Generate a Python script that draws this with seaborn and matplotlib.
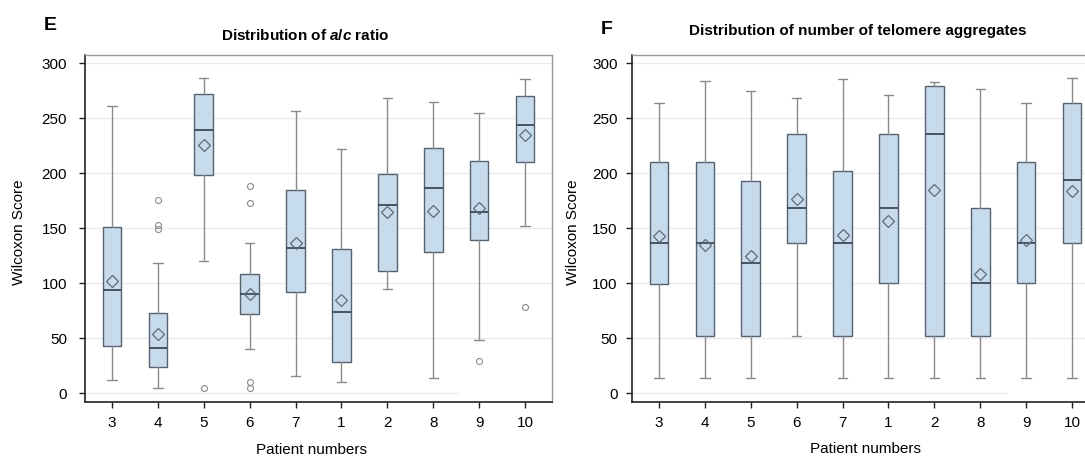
import numpy as np
import matplotlib
matplotlib.use("Agg")
import matplotlib.pyplot as plt
import seaborn as sns

# ---------------- data ----------------
patients = ["3", "4", "5", "6", "7", "1", "2", "8", "9", "10"]
y_ticks = [0, 50, 100, 150, 200, 250, 300]

# Panel E: a/c ratio
e_whislo = [12, 5, 120, 40, 16, 10, 95, 14, 48, 152]
e_q1     = [43, 24, 198, 72, 92, 28, 111, 128, 139, 210]
e_med    = [94, 41, 239, 90, 132, 74, 171, 187, 165, 244]
e_q3     = [151, 73, 272, 108, 185, 131, 199, 223, 211, 270]
e_whishi = [261, 118, 287, 137, 257, 222, 268, 265, 255, 286]
e_mean   = [102, 54, 226, 90, 137, 85, 165, 166, 168, 235]
e_fliers = [[], [176, 153, 149], [5], [188, 173, 10, 5], [], [], [], [], [29], [78]]

# Panel F: number of telomere aggregates
f_whislo = [14, 14, 14, 52, 14, 14, 14, 14, 14, 14]
f_q1     = [99, 52, 52, 137, 52, 100, 52, 52, 100, 137]
f_med    = [137, 137, 118, 168, 137, 168, 236, 100, 137, 194]
f_q3     = [210, 210, 193, 236, 202, 236, 279, 168, 210, 264]
f_whishi = [264, 284, 275, 268, 286, 271, 283, 277, 264, 287]
f_mean   = [143, 135, 125, 177, 144, 157, 185, 108, 139, 184]
f_fliers = [[] for _ in patients]

# ---------------- style ----------------
sns.set_style("white")
plt.rcParams["font.family"] = ["Liberation Sans", "DejaVu Sans"]
plt.rcParams["mathtext.fontset"] = "custom"
plt.rcParams["mathtext.rm"] = "Liberation Sans:bold"
plt.rcParams["mathtext.it"] = "Liberation Sans:italic:bold"
plt.rcParams["mathtext.bf"] = "Liberation Sans:bold"
plt.rcParams["text.color"] = "black"
plt.rcParams["xtick.color"] = "black"
plt.rcParams["ytick.color"] = "black"

W, H = 1085, 461
fig = plt.figure(figsize=(W / 100, H / 100), dpi=100)

BOX_FILL = "#c6dcec"
BOX_EDGE = "#56626e"
MED_COL = "#3e4954"
WHISK = "#8a8a8a"
MEAN_COL = "#5d6b78"
FS = 11


def panel(rect, whislo, q1, med, q3, whishi, mean, fliers, ypad):
    ax = fig.add_axes(rect)
    pos = np.arange(len(patients))
    stats = []
    for i in range(len(patients)):
        stats.append(dict(whislo=whislo[i], q1=q1[i], med=med[i], q3=q3[i],
                          whishi=whishi[i], mean=mean[i],
                          fliers=np.array(fliers[i], dtype=float)))
    for yv in y_ticks[1:]:
        ax.axhline(yv, color="#ececec", lw=1.0, zorder=0)
    ax.axhline(0, xmin=0, xmax=0.80, color="#ececec", lw=1.0, zorder=0)
    ax.bxp(stats, positions=pos, widths=0.41, capwidths=0.2,
           patch_artist=True, showmeans=True, manage_ticks=False,
           boxprops=dict(facecolor=BOX_FILL, edgecolor=BOX_EDGE, linewidth=1.0),
           medianprops=dict(color=MED_COL, linewidth=1.3),
           whiskerprops=dict(color=WHISK, linewidth=1.0),
           capprops=dict(color=WHISK, linewidth=1.0),
           meanprops=dict(marker="D", markerfacecolor="none",
                          markeredgecolor=MEAN_COL, markersize=6.3,
                          markeredgewidth=0.9),
           flierprops=dict(marker="o", markerfacecolor="none",
                           markeredgecolor="#8a8a8a", markersize=4.3,
                           markeredgewidth=0.8))
    ax.set_xlim(-0.59, 9.59)
    ax.set_ylim(-8, 307.5)
    ax.set_xticks(pos)
    ax.set_xticklabels(patients, fontsize=FS)
    ax.set_yticks(y_ticks)
    ax.set_yticklabels([str(v) for v in y_ticks], fontsize=FS)
    ax.tick_params(axis="y", length=4.3, width=1, color="#222222", pad=ypad, left=True)
    ax.tick_params(axis="x", length=4.3, width=1, color="#222222", pad=6, bottom=True)
    for s in ["left", "bottom"]:
        ax.spines[s].set_color("#222222")
        ax.spines[s].set_linewidth(1.2)
    for s in ["top", "right"]:
        ax.spines[s].set_color("#9a9a9a")
        ax.spines[s].set_linewidth(1.0)
    ax.grid(False)
    return ax


def fr(x0, y0, x1, y1):
    return [x0 / W, 1 - y1 / H, (x1 - x0) / W, (y1 - y0) / H]


axE = panel(fr(85, 55, 552, 402), e_whislo, e_q1, e_med, e_q3, e_whishi,
            e_mean, e_fliers, ypad=8.5)
axF = panel(fr(632, 55, 1099, 402), f_whislo, f_q1, f_med, f_q3, f_whishi,
            f_mean, f_fliers, ypad=6)

# labels
def ftext(x, y, s, **kw):
    fig.text(x / W, 1 - y / H, s, **kw)

ftext(50, 25, "E", fontsize=14, fontweight="bold", ha="center", va="center")
ftext(607, 29, "F", fontsize=14, fontweight="bold", ha="center", va="center")
ftext(305, 35.5, r"Distribution of $\mathit{a/c}$ ratio", fontsize=FS,
      fontweight="bold", ha="center", va="center")
ftext(858, 31, "Distribution of number of telomere aggregates", fontsize=FS,
      fontweight="bold", ha="center", va="center")
ftext(19, 232, "Wilcoxon Score", fontsize=FS, rotation=90, ha="center", va="center")
ftext(573, 232, "Wilcoxon Score", fontsize=FS, rotation=90, ha="center", va="center")
ftext(311, 450, "Patient numbers", fontsize=FS, ha="center", va="center")
ftext(866, 449, "Patient numbers", fontsize=FS, ha="center", va="center")

fig.savefig("out.png", dpi=100)
